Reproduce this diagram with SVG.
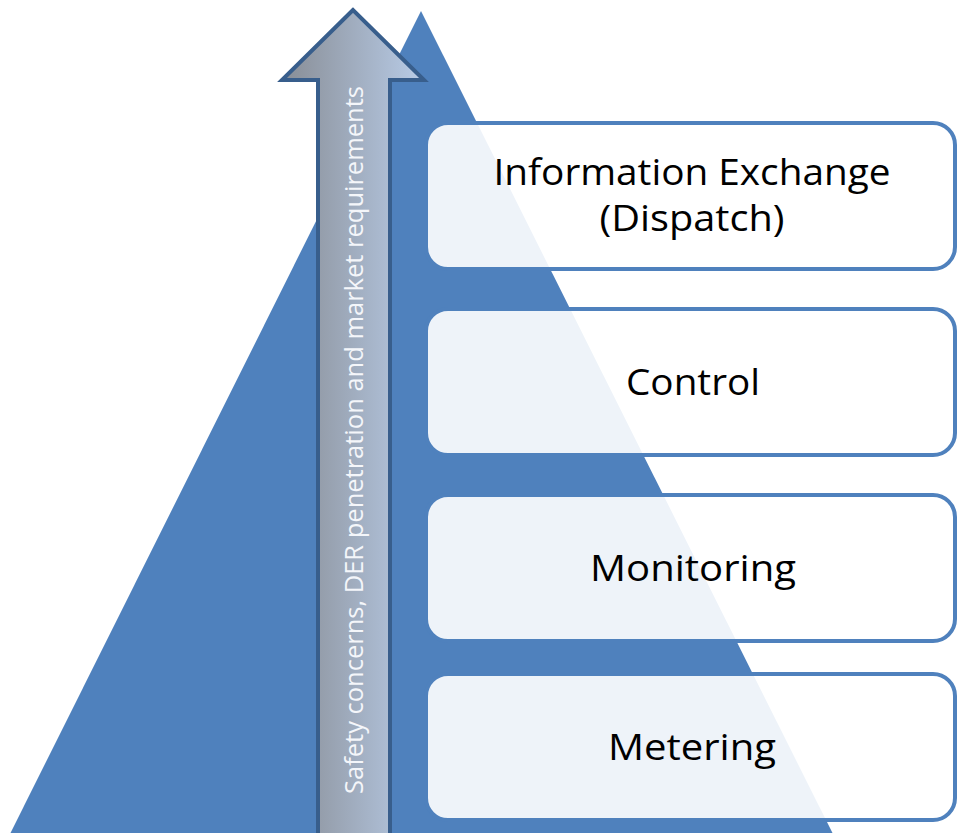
<svg xmlns="http://www.w3.org/2000/svg" width="957" height="833" viewBox="0 0 957 833">
<defs>
<linearGradient id="arrowGrad" gradientUnits="userSpaceOnUse" x1="280" y1="0" x2="428" y2="0">
<stop offset="0" stop-color="#878C94"/>
<stop offset="1" stop-color="#BACEEA"/>
</linearGradient>
<style>
.box { fill: #FFFFFF; fill-opacity: 0.9; stroke: #4F81BD; stroke-width: 4; }
.label { font-family: "Open Sans", "Liberation Sans", sans-serif; font-size: 36px; fill: #000000; text-anchor: middle; }
.vlabel { font-family: "Open Sans", "Liberation Sans", sans-serif; font-size: 25px; fill: #F4F6FA; }
</style>
</defs>
<rect x="0" y="0" width="957" height="833" fill="#FFFFFF"/>
<g id="pyramid">
<polygon points="421,11 836,840 7,840" fill="#4F81BD"/>
</g>
<g id="arrow">
<polygon points="353,10 282,80 318,80 318,840 390,840 390,80 424,80" fill="url(#arrowGrad)" stroke="#385E8C" stroke-width="4" stroke-linejoin="miter"/>
<text class="vlabel" transform="translate(363,794) rotate(-90)" textLength="708" lengthAdjust="spacingAndGlyphs">Safety concerns, DER penetration and market requirements</text>
</g>
<g id="box-information-exchange">
<rect class="box" x="426" y="123" width="529" height="146" rx="22" ry="22"/>
<text class="label" x="692" y="185" textLength="397" lengthAdjust="spacingAndGlyphs">Information Exchange</text>
<text class="label" x="692" y="231" textLength="185" lengthAdjust="spacingAndGlyphs">(Dispatch)</text>
</g>
<g id="box-control">
<rect class="box" x="426" y="309" width="529" height="146" rx="22" ry="22"/>
<text class="label" x="693" y="395" textLength="134" lengthAdjust="spacingAndGlyphs">Control</text>
</g>
<g id="box-monitoring">
<rect class="box" x="426" y="495" width="529" height="146" rx="22" ry="22"/>
<text class="label" x="693" y="581" textLength="206" lengthAdjust="spacingAndGlyphs">Monitoring</text>
</g>
<g id="box-metering">
<rect class="box" x="426" y="674" width="529" height="146" rx="22" ry="22"/>
<text class="label" x="692" y="760" textLength="168" lengthAdjust="spacingAndGlyphs">Metering</text>
</g>
<g id="connectors"/>
</svg>
